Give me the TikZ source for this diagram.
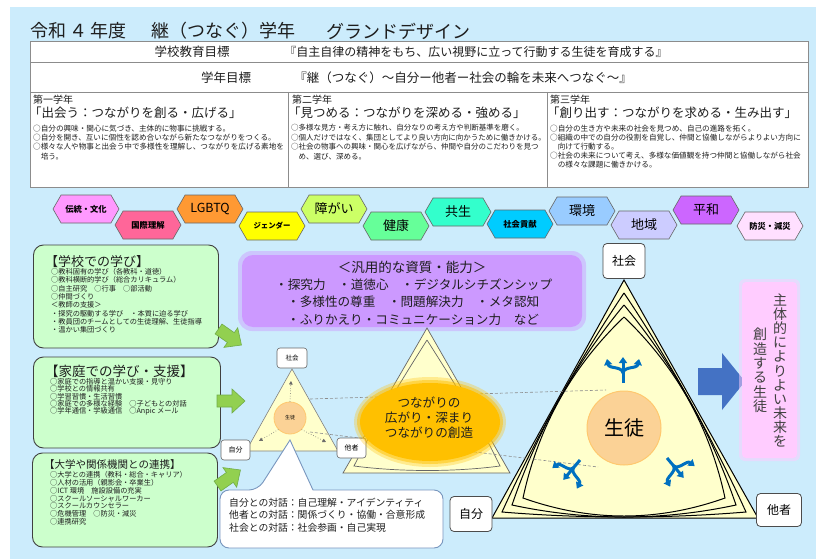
\documentclass[tikz,border=0pt]{standalone}
\usepackage{fontspec}
\setmainfont{Noto Sans CJK JP}
\usetikzlibrary{shapes.symbols,arrows.meta}
\definecolor{bgblue}{RGB}{204,236,252}
\definecolor{hxa}{RGB}{255,153,255}
\definecolor{hxb}{RGB}{255,102,153}
\definecolor{hxc}{RGB}{255,153,51}
\definecolor{hxd}{RGB}{255,255,0}
\definecolor{hxe}{RGB}{204,255,102}
\definecolor{hxf}{RGB}{102,255,153}
\definecolor{hxg}{RGB}{51,255,204}
\definecolor{hxh}{RGB}{0,204,255}
\definecolor{hxi}{RGB}{153,204,255}
\definecolor{hxj}{RGB}{204,204,255}
\definecolor{hxk}{RGB}{204,102,255}
\definecolor{hxl}{RGB}{255,224,255}
\definecolor{boxgreen}{RGB}{204,255,204}
\definecolor{arrgreen}{RGB}{146,208,80}
\definecolor{arrgreenline}{RGB}{112,173,71}
\definecolor{purplebox}{RGB}{204,153,255}
\definecolor{pinkbox}{RGB}{255,204,255}
\definecolor{paleyellow}{RGB}{255,255,204}
\definecolor{ellgold}{RGB}{255,192,0}
\definecolor{peach}{RGB}{251,210,150}
\definecolor{peachline}{RGB}{255,200,110}
\definecolor{forkblue}{RGB}{0,112,192}
\definecolor{bigarrow}{RGB}{68,114,196}
\definecolor{bubbleline}{RGB}{120,150,190}
\definecolor{txt}{RGB}{30,30,30}
\newcommand\fsz[2]{\fontsize{#1}{#2}\selectfont}
\tikzset{
  hexa/.style={signal, signal to=east and west, signal pointer angle=120,
    draw=black!60, line width=0.6pt, minimum width=66pt, minimum height=28pt, inner sep=0pt},
  gbox/.style={draw=black!75, line width=0.9pt, fill=boxgreen, rounded corners=10pt, inner sep=0pt},
  garrow/.style={fill=arrgreen, draw=arrgreenline, line width=0.6pt},
  lbl/.style={draw=black!70, fill=white, rounded corners=4pt, line width=0.8pt, inner sep=0pt},
  slbl/.style={draw=black!60, fill=white, rounded corners=3pt, line width=0.6pt, inner sep=0pt},
  plain/.style={inner sep=0pt, text=txt},
  dotarrow/.style={dotted, draw=black!60, line width=0.6pt, -{Triangle[width=3.5pt,length=3.5pt]}},
  dashline/.style={draw=black!45, line width=0.6pt, dash pattern=on 3pt off 2pt},
  triline/.style={draw=black, line width=1pt},
  forkline/.style={draw=forkblue, line width=3pt, -{Triangle[width=8pt,length=6pt]}},
  fork/.pic={
    \draw[forkline] (0,0) -- (0,-26);
    \draw[forkline] (0,-10) .. controls (-1,-17) and (-14,-14) .. (-16,-24);
    \draw[forkline] (0,-10) .. controls (1,-17) and (14,-14) .. (16,-24);
  }
}
\begin{document}
\begin{tikzpicture}[x=1pt,y=-1pt]
\useasboundingbox (0,0) rectangle (816,559);
\fill[white] (0,0) rectangle (816,559);
\fill[bgblue] (10,7) rectangle (816,559);

% title
\node[plain, anchor=west, font=\fsz{18}{18}] (t1) at (30,31) {令和\,４\,年度};
\node[plain, anchor=west, font=\fsz{18}{18}] (t2) at (151,31) {継（つなぐ）学年};
\node[plain, anchor=west, font=\fsz{18}{18}] (t3) at (326,31) {グランドデザイン};

% table
\filldraw[fill=white, draw=black!45, line width=0.7pt] (30,41) rectangle (808,187);
\draw[draw=black!45, line width=0.7pt] (30,62) -- (808,62);
\draw[draw=black!45, line width=0.7pt] (30,92) -- (808,92);
\draw[draw=black!45, line width=0.7pt] (288,92) -- (288,187);
\draw[draw=black!45, line width=0.7pt] (547,92) -- (547,187);
\node[plain, font=\fsz{12.5}{12.5}] (r1a) at (192,52) {学校教育目標};
\node[plain, font=\fsz{12}{12}] (r1b) at (476,52) {『自主自律の精神をもち、広い視野に立って行動する生徒を育成する』};
\node[plain, font=\fsz{12.5}{12.5}] (r2a) at (226,78) {学年目標};
\node[plain, font=\fsz{12.5}{12.5}] (r2b) at (463,78) {『継（つなぐ）～自分ー他者ー社会の輪を未来へつなぐ～』};

\node[plain, anchor=west, font=\fsz{10}{10}] (c1h) at (33,100) {第一学年};
\node[plain, anchor=west, font=\fsz{12.5}{12.5}] (c1s) at (29,113) {「出会う：つながりを創る・広げる」};
\node[plain, anchor=north west, align=left, font=\fsz{7.6}{9.4}] (c1b) at (33,124.4) {○自分の興味・関心に気づき、主体的に物事に挑戦する。\\○自分を開き、互いに個性を認め合いながら新たなつながりをつくる。\\○様々な人や物事と出会う中で多様性を理解し、つながりを広げる素地を\\　培う。};

\node[plain, anchor=west, font=\fsz{10}{10}] (c2h) at (292,100) {第二学年};
\node[plain, anchor=west, font=\fsz{12.5}{12.5}] (c2s) at (288,113) {「見つめる：つながりを深める・強める」};
\node[plain, anchor=north west, align=left, font=\fsz{7.5}{9.4}] (c2b) at (291,124.4) {○多様な見方・考え方に触れ、自分なりの考え方や判断基準を磨く。\\○個人だけではなく、集団としてより良い方向に向かうために働きかける。\\○社会の物事への興味・関心を広げながら、仲間や自分のこだわりを見つ\\　め、選び、深める。};

\node[plain, anchor=west, font=\fsz{10}{10}] (c3h) at (550,100) {第三学年};
\node[plain, anchor=west, font=\fsz{12.5}{12.5}] (c3s) at (547,113) {「創り出す：つながりを求める・生み出す」};
\node[plain, anchor=north west, align=left, font=\fsz{7.6}{9.2}] (c3b) at (550,124.4) {○自分の生き方や未来の社会を見つめ、自己の進路を拓く。\\○組織の中での自分の役割を自覚し、仲間と協働しながらよりよい方向に\\　向けて行動する。\\○社会の未来について考え、多様な価値観を持つ仲間と協働しながら社会\\　の様々な課題に働きかける。};

% hexagons
\node[hexa, fill=hxa, font=\fsz{8.3}{8.3}\bfseries] (h1) at (86,209) {伝統・文化};
\node[hexa, fill=hxb, font=\fsz{8.3}{8.3}\bfseries] (h2) at (148,225) {国際理解};
\node[hexa, fill=hxc, font=\fsz{12.5}{12.5}] (h3) at (210,209) {LGBTQ};
\node[hexa, fill=hxd, font=\fsz{7.4}{7.4}\bfseries] (h4) at (272,226) {ジェンダー};
\node[hexa, fill=hxe, font=\fsz{13}{13}] (h5) at (334,209) {障がい};
\node[hexa, fill=hxf, font=\fsz{13}{13}] (h6) at (396,226) {健康};
\node[hexa, fill=hxg, font=\fsz{13}{13}] (h7) at (458,212) {共生};
\node[hexa, fill=hxh, font=\fsz{8.3}{8.3}\bfseries] (h8) at (520,224) {社会貢献};
\node[hexa, fill=hxi, font=\fsz{13}{13}] (h9) at (582,211) {環境};
\node[hexa, fill=hxj, font=\fsz{13}{13}] (h10) at (644,225) {地域};
\node[hexa, fill=hxk, font=\fsz{13}{13}] (h11) at (706,210) {平和};
\node[hexa, fill=hxl, font=\fsz{8.3}{8.3}\bfseries] (h12) at (770,226) {防災・減災};

% left boxes
\node[gbox, minimum width=185pt, minimum height=103pt] (box1) at (126,296.5) {};
\node[plain, anchor=west, font=\fsz{13}{13}] (b1t) at (45,262) {【学校での学び】};
\node[plain, anchor=north west, align=left, font=\fsz{7.2}{8.33}] (b1b) at (51,268.1) {○教科固有の学び（各教科・道徳）\\○教科横断的学び（総合カリキュラム）\\○自主研究　○行事　○部活動\\○仲間づくり\\＜教師の支援＞\\・探究の駆動する学び　・本質に迫る学び\\・教員団のチームとしての生徒理解、生徒指導\\・温かい集団づくり};

\node[gbox, minimum width=187pt, minimum height=91pt] (box2) at (127,402.5) {};
\node[plain, anchor=west, font=\fsz{13.5}{13.5}] (b2t) at (45,371) {【家庭での学び・支援】};
\node[plain, anchor=north west, align=left, font=\fsz{7.2}{7.4}] (b2b) at (50,378.1) {○家庭での指導と温かい支援・見守り\\○学校との情報共有\\○学習習慣・生活習慣\\○家庭での多様な経験　○子どもとの対話\\○学年通信・学級通信　○Anpic メール};

\node[gbox, minimum width=185pt, minimum height=94pt] (box3) at (125,500) {};
\node[plain, anchor=west, font=\fsz{10.5}{10.5}] (b3t) at (44,465) {【大学や関係機関との連携】};
\node[plain, anchor=north west, align=left, font=\fsz{7.2}{7.8}] (b3b) at (50,471.4) {○大学との連携（教科・総合・キャリア）\\○人材の活用（親影会・卒業生）\\○ICT 環境　施設設備の充実\\○スクールソーシャルワーカー\\○スクールカウンセラー\\○危機管理　○防災・減災\\○連携研究};

% green arrows
\begin{scope}[shift={(230,337)}, rotate=-35]
\filldraw[garrow] (-14,-6) -- (1,-6) -- (1,-12) -- (14,0) -- (1,12) -- (1,6) -- (-14,6) -- cycle;
\end{scope}
\begin{scope}[shift={(231,401)}]
\filldraw[garrow] (-14,-6) -- (1,-6) -- (1,-12) -- (14,0) -- (1,12) -- (1,6) -- (-14,6) -- cycle;
\end{scope}
\begin{scope}[shift={(229,478)}, rotate=35]
\filldraw[garrow] (-14,-6) -- (1,-6) -- (1,-12) -- (14,0) -- (1,12) -- (1,6) -- (-14,6) -- cycle;
\end{scope}

% purple box
\fill[purplebox, opacity=0.45, rounded corners=14pt] (238,251) rectangle (586,331);
\fill[purplebox, rounded corners=11pt] (242,255) rectangle (582,327);
\node[plain, font=\fsz{13.5}{13.5}] (pt) at (412,267) {＜汎用的な資質・能力＞};
\node[plain, anchor=west, font=\fsz{12.6}{12.6}] (p1) at (275,284.5) {・探究力　・道徳心　・デジタルシチズンシップ};
\node[plain, anchor=west, font=\fsz{12.6}{12.6}] (p2) at (287,302) {・多様性の尊重　・問題解決力　・メタ認知};
\node[plain, anchor=west, font=\fsz{12.6}{12.6}] (p3) at (287,319.5) {・ふりかえり・コミュニケーション力　など};

% medium triangle
\filldraw[fill=paleyellow, draw=black!60, line width=0.7pt] (427,328) -- (343,473) -- (510,473) -- cycle;
\draw[draw=black!60, line width=0.7pt] (427,340) .. controls (403,378) and (378,418) .. (354,466) .. controls (400,472) and (455,472) .. (500,466) .. controls (477,418) and (451,378) .. (427,340);

% small triangle
\filldraw[fill=paleyellow, draw=black!50, line width=0.6pt] (292,369) -- (246,451) -- (338,451) -- cycle;
\node[circle, fill=peach, draw=peachline, line width=0.8pt, minimum size=32pt, inner sep=0pt, font=\fsz{5}{5}] (sc) at (290,418) {生徒};
\coordinate (sa1) at (291,381);
\coordinate (sa2) at (259,441);
\coordinate (sa3) at (326,442);
\draw[dotarrow] (sc.north) -- (sa1);
\draw[dotarrow] (sc.south west) -- (sa2);
\draw[dotarrow] (sc.south east) -- (sa3);

% bubble
\filldraw[fill=white, draw=bubbleline, line width=0.9pt] (220,520) [rounded corners=9pt] |- (258,490) [sharp corners] -- (290,440) -- (313,490) [rounded corners=9pt] -| (443,548) -| cycle;
\node[plain, anchor=north west, align=left, font=\fsz{9.8}{12.3}] (bt) at (229,498) {自分との対話：自己理解・アイデンティティ\\他者との対話：関係づくり・協働・合意形成\\社会との対話：社会参画・自己実現};

% small labels
\node[slbl, minimum width=30pt, minimum height=20pt, font=\fsz{6.5}{6.5}] (ss) at (292,358) {社会};
\node[slbl, minimum width=29pt, minimum height=20pt, font=\fsz{7}{7}] (sj) at (235.5,450) {自分};
\node[slbl, minimum width=29pt, minimum height=20pt, font=\fsz{7}{7}] (st) at (351.5,448) {他者};

% big triangle
\filldraw[fill=paleyellow, triline] (624,280) -- (492,518) -- (758,518) -- cycle;
\draw[triline] (624,293) .. controls (577.4,362.7) and (536.8,435.7) .. (502,512) .. controls (583.3,518.7) and (664.7,518.7) .. (746,512) .. controls (711.2,435.7) and (670.6,362.7) .. (624,293);
\draw[triline] (624,305) .. controls (574.5,364.9) and (537.1,431.5) .. (512,505) .. controls (586.7,521) and (661.3,521) .. (736,505) .. controls (710.9,431.5) and (673.5,364.9) .. (624,305);
\draw[triline] (624,317) .. controls (571.7,366.9) and (538.1,427.3) .. (523,498) .. controls (590.3,522) and (657.7,522) .. (725,498) .. controls (709.9,427.3) and (676.3,366.9) .. (624,317);

% dashed lines
\coordinate (dla) at (310,399);
\coordinate (dlb) at (606,390);
\coordinate (dlc) at (310,432);
\coordinate (dld) at (598,467);
\draw[dashline] (dla) -- (dlb);
\draw[dashline] (dlc) -- (dld);

% ellipse
\fill[ellgold, opacity=0.3] (430,422) ellipse [x radius=76, y radius=45];
\fill[ellgold, opacity=0.5] (430,422) ellipse [x radius=73, y radius=42];
\fill[ellgold] (430,422) ellipse [x radius=70, y radius=39];
\node[plain, align=center, font=\fsz{12.6}{15}] (et) at (429,418) {つながりの\\広がり・深まり\\つながりの創造};

% big circle and forks
\node[circle, fill=peach, draw=peachline, line width=1pt, minimum size=74pt, inner sep=0pt, font=\fsz{20}{20}] (bc) at (624,428) {生徒};
\pic at (623,383) {fork};
\pic[rotate=140] at (580,460) {fork};
\pic[rotate=-140] at (667,458) {fork};

% big labels
\node[lbl, minimum width=42pt, minimum height=35pt, font=\fsz{12}{12}] (bs) at (624,261) {社会};
\node[lbl, minimum width=42pt, minimum height=35pt, font=\fsz{12}{12}] (bj) at (471,514) {自分};
\node[lbl, minimum width=45pt, minimum height=33pt, font=\fsz{12}{12}] (bt2) at (779,510) {他者};

% blue arrow
\fill[bigarrow] (698,368) -- (722,368) -- (722,353) -- (745,381.5) -- (722,410) -- (722,395) -- (698,395) -- cycle;

% pink box
\fill[pinkbox, opacity=0.5, rounded corners=6pt] (739,279) rectangle (800,461);
\fill[pinkbox, rounded corners=4pt] (742,282) rectangle (797,458);
\node[plain, align=center, font=\fsz{14}{14.1}, text=black!75] (v1) at (780,370.5) {主\\体\\的\\に\\よ\\り\\よ\\い\\未\\来\\を};
\node[plain, align=center, font=\fsz{14}{14.3}, text=black!75] (v2) at (760,370.5) {創\\造\\す\\る\\生\\徒};
\end{tikzpicture}
\end{document}
